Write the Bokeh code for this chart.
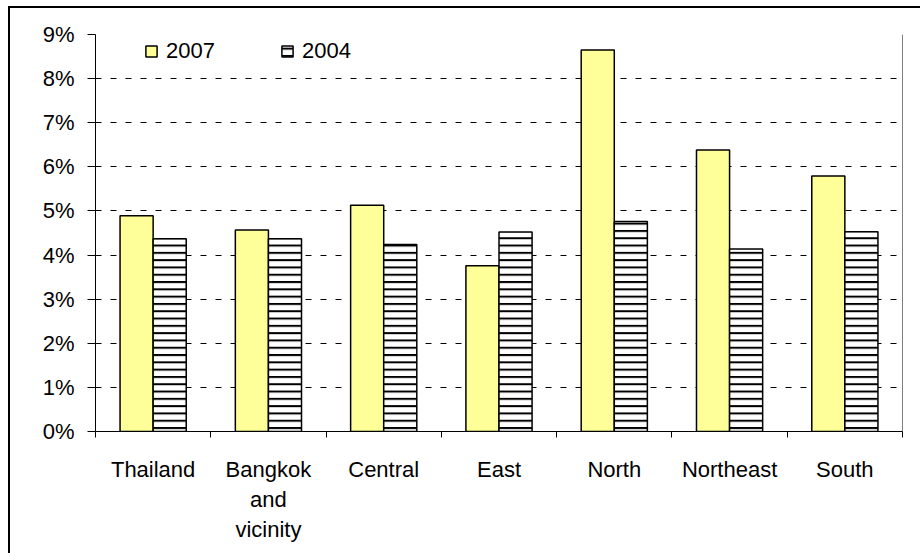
from bokeh.plotting import figure
from bokeh.models import (ColumnDataSource, Range1d, FixedTicker, LinearAxis, Grid,
                          NumeralTickFormatter, Legend, LegendItem, Span)
from bokeh.transform import dodge
from bokeh.embed import file_html
from bokeh.resources import INLINE

# Regional shares (percent) for 2007 and 2004
regions = ["Thailand", "Bangkok\nand\nvicinity", "Central", "East", "North", "Northeast", "South"]
share_2007 = [4.89, 4.57, 5.13, 3.76, 8.65, 6.38, 5.79]
share_2004 = [4.37, 4.37, 4.24, 4.52, 4.76, 4.14, 4.53]
y_ticks = [0, 1, 2, 3, 4, 5, 6, 7, 8, 9]

FONT = "Liberation Sans"
n = len(regions)
centers = [i + 0.5 for i in range(n)]
bounds = list(range(n + 1))

src = ColumnDataSource(dict(
    x=centers,
    y07=[v / 100 for v in share_2007],
    y04=[v / 100 for v in share_2004],
))

# the outer chart frame (left and top edges) is painted behind a transparent canvas
frame_css = {
    "background-color": "white",
    "background-image": "linear-gradient(black, black), linear-gradient(black, black)",
    "background-size": "2px 600px, 1000px 2px",
    "background-position": "8px 6px, 8px 6px",
    "background-repeat": "no-repeat",
}

p = figure(width=920, height=553, output_backend="svg", toolbar_location=None,
           x_range=Range1d(0, n), y_range=Range1d(0, y_ticks[-1] / 100),
           min_border_left=95, min_border_right=18, min_border_top=34,
           min_border_bottom=122, x_axis_type=None, y_axis_type=None,
           styles=frame_css)
p.outline_line_color = None
p.background_fill_color = "white"
p.border_fill_color = None

bw = 0.287
r07 = p.vbar(x=dodge("x", -bw / 2, range=p.x_range), top="y07", width=bw, source=src,
             fill_color="#FFFF99", line_color="black", line_width=1.5)
r04 = p.vbar(x=dodge("x", bw / 2, range=p.x_range), top="y04", width=bw, source=src,
             fill_color="white", line_color="black", line_width=1.5,
             hatch_pattern="horizontal_line", hatch_color="black",
             hatch_scale=7.3, hatch_weight=2)

# y axis with percentage labels
yaxis = LinearAxis(ticker=FixedTicker(ticks=[t / 100 for t in y_ticks], minor_ticks=[]),
                   formatter=NumeralTickFormatter(format="0%"))
yaxis.axis_line_color = "black"
yaxis.major_tick_line_color = "black"
yaxis.major_tick_out = 8
yaxis.major_tick_in = 0
yaxis.minor_tick_line_color = None
yaxis.major_label_standoff = 13
yaxis.major_label_text_font = FONT
yaxis.major_label_text_font_size = "22px"
yaxis.major_label_text_color = "black"
p.add_layout(yaxis, "left")

# x axis: labels at group centres, ticks at group boundaries
xaxis = LinearAxis(ticker=FixedTicker(ticks=centers, minor_ticks=bounds))
xaxis.major_label_overrides = {c: lab for c, lab in zip(centers, regions)}
xaxis.axis_line_color = "black"
xaxis.major_tick_line_color = None
xaxis.major_tick_out = 0
xaxis.major_tick_in = 0
xaxis.minor_tick_line_color = "black"
xaxis.minor_tick_out = 6
xaxis.minor_tick_in = 0
xaxis.major_label_standoff = 19
xaxis.major_label_text_font = FONT
xaxis.major_label_text_font_size = "22px"
xaxis.major_label_text_color = "black"
p.add_layout(xaxis, "below")

ygrid = Grid(dimension=1, ticker=yaxis.ticker)
ygrid.grid_line_color = "black"
ygrid.grid_line_dash = "6 9"
ygrid.grid_line_width = 1
p.add_layout(ygrid)

# solid right edge of the plot area
p.add_layout(Span(location=n, dimension="height", line_color="black", line_width=1))

legend = Legend(items=[LegendItem(label="2007", renderers=[r07]),
                       LegendItem(label="2004", renderers=[r04])],
                orientation="horizontal", location=(49, 367))
legend.border_line_color = None
legend.background_fill_alpha = 0
legend.padding = 0
legend.margin = 0
legend.spacing = 65
legend.glyph_width = 14
legend.glyph_height = 14
legend.label_height = 14
legend.label_standoff = 8
legend.label_text_font = FONT
legend.label_text_font_size = "22px"
legend.label_text_color = "black"
p.add_layout(legend)

open("out.html", "w").write(file_html(p, INLINE))
